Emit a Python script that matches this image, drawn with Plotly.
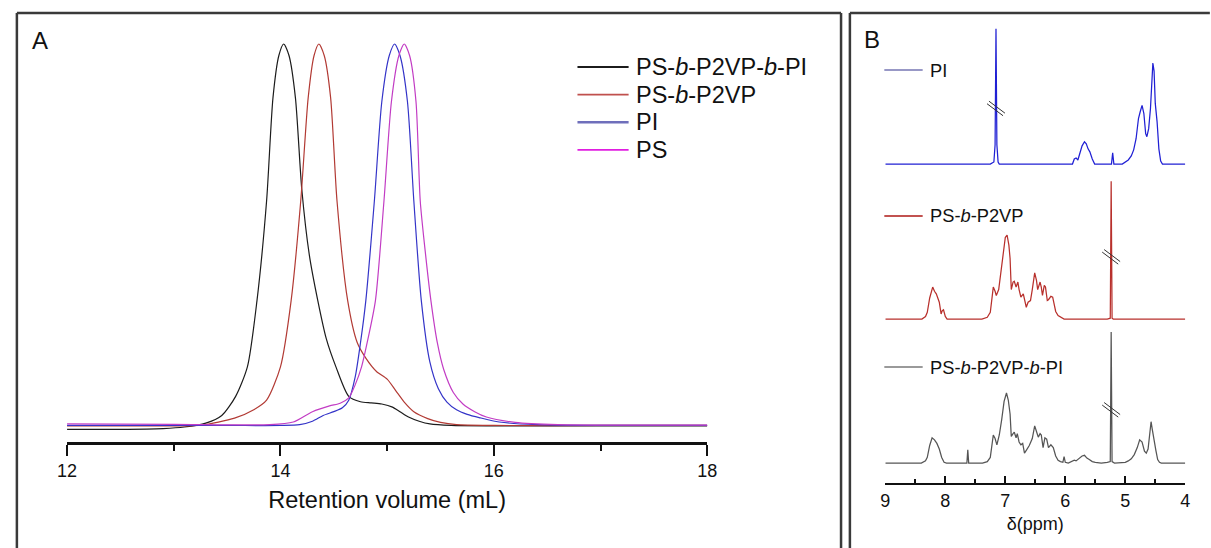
import plotly.graph_objects as go

W, H = 1211, 548

# ---------------- Panel A: GPC traces ----------------
gpc_names = ["PS-<i>b</i>-P2VP-<i>b</i>-PI", "PS-<i>b</i>-P2VP", "PI", "PS"]

triblock_vol = [12.0, 12.5, 12.9, 13.1, 13.3, 13.45, 13.58, 13.69, 13.78, 13.87, 13.93, 13.985, 14.03, 14.08,
                14.14, 14.2, 14.27, 14.35, 14.43, 14.52, 14.64, 14.75, 14.85, 14.95, 15.05, 15.12, 15.2,
                15.3, 15.4, 15.6, 16.0, 17.0, 18.0]
triblock_sig = [-0.006, -0.006, -0.004, 0.0, 0.01, 0.03, 0.08, 0.157, 0.33, 0.59, 0.86, 0.97, 1.0, 0.97,
                0.86, 0.62, 0.45, 0.33, 0.23, 0.157, 0.08, 0.066, 0.063, 0.06, 0.052, 0.04, 0.026,
                0.015, 0.008, 0.004, 0.003, 0.003, 0.003]

diblock_vol = [12.0, 13.0, 13.26, 13.57, 13.75, 13.87, 14.0, 14.1, 14.19, 14.26, 14.315, 14.36, 14.41, 14.47,
               14.53, 14.63, 14.72, 14.8, 14.9, 15.0, 15.08, 15.16, 15.25, 15.38, 15.5, 15.65, 16.0, 17.0, 18.0]
diblock_sig = [0.003, 0.003, 0.005, 0.023, 0.045, 0.07, 0.157, 0.33, 0.59, 0.86, 0.97, 1.0, 0.97, 0.86,
               0.59, 0.33, 0.22, 0.18, 0.145, 0.125, 0.095, 0.065, 0.04, 0.022, 0.012, 0.006, 0.004, 0.004, 0.004]

pi_vol = [12.0, 13.5, 14.0, 14.18, 14.3, 14.4, 14.5, 14.58, 14.64, 14.7, 14.75, 14.8, 14.88, 14.95, 15.02,
          15.07, 15.12, 15.19, 15.25, 15.32, 15.4, 15.48, 15.56, 15.65, 15.75, 15.87, 16.05, 16.4, 17.0, 18.0]
pi_sig = [0.004, 0.004, 0.004, 0.006, 0.015, 0.03, 0.04, 0.05, 0.07, 0.13, 0.22, 0.33, 0.59, 0.85, 0.97,
          1.0, 0.97, 0.85, 0.59, 0.33, 0.17, 0.1, 0.065, 0.045, 0.033, 0.024, 0.013, 0.006, 0.004, 0.004]

ps_vol = [12.0, 13.0, 13.9, 14.12, 14.3, 14.46, 14.56, 14.64, 14.7, 14.76, 14.82, 14.89, 14.97, 15.04, 15.11,
          15.16, 15.21, 15.27, 15.31, 15.36, 15.41, 15.47, 15.53, 15.62, 15.71, 15.82, 15.93, 16.2, 16.6,
          17.0, 18.0]
ps_sig = [0.008, 0.007, 0.006, 0.013, 0.04, 0.055, 0.062, 0.076, 0.11, 0.157, 0.23, 0.33, 0.59, 0.85, 0.97,
          1.0, 0.97, 0.85, 0.59, 0.45, 0.33, 0.22, 0.15, 0.09, 0.06, 0.04, 0.026, 0.012, 0.006, 0.005, 0.005]

gpc_colors = ["#1c1c1c", "#b23a34", "#3434c8", "#c23cc4"]
gpc_legend_colors = ["#1c1c1c", "#c0504d", "#6f6fbb", "#e01ee0"]

gpc_ticks = [12, 14, 16, 18]

# ---------------- Panel B: 1H NMR spectra ----------------
nmr_names = ["PI", "PS-<i>b</i>-P2VP", "PS-<i>b</i>-P2VP-<i>b</i>-PI"]

pi_ppm = [9.0, 7.25, 7.19, 7.17, 7.155, 7.14, 7.12, 7.10, 6.0, 5.88, 5.85, 5.82, 5.79, 5.76, 5.72, 5.68,
          5.65, 5.62, 5.59, 5.55, 5.51, 5.4, 5.23, 5.21, 5.19, 5.05, 5.02, 4.95, 4.9, 4.86, 4.82, 4.78,
          4.75, 4.72, 4.69, 4.66, 4.64, 4.61, 4.58, 4.56, 4.54, 4.52, 4.5, 4.47, 4.44, 4.41, 4.38, 4.3, 4.0]
pi_int = [0, 0, 0.02, 0.19, 1.34, 0.19, 0.02, 0, 0, 0, 0.05, 0.06, 0.04, 0.1, 0.18, 0.22,
          0.2, 0.15, 0.12, 0.05, 0, 0, 0, 0.11, 0, 0, 0.01, 0.04, 0.08, 0.14, 0.25, 0.45,
          0.52, 0.58, 0.5, 0.3, 0.27, 0.35, 0.55, 0.85, 1.0, 0.92, 0.6, 0.42, 0.15, 0.03, 0, 0, 0]

p2vp_ppm = [9.0, 8.39, 8.33, 8.30, 8.26, 8.21, 8.18, 8.15, 8.10, 8.07, 8.05, 8.03, 8.0, 7.97, 7.39, 7.3,
            7.25, 7.2, 7.17, 7.15, 7.11, 7.07, 7.03, 7.0, 6.97, 6.94, 6.92, 6.9, 6.87, 6.85, 6.82, 6.79,
            6.77, 6.74, 6.7, 6.67, 6.65, 6.62, 6.58, 6.55, 6.51, 6.48, 6.46, 6.42, 6.4, 6.38, 6.35, 6.33,
            6.3, 6.28, 6.24, 6.21, 6.18, 6.16, 6.12, 6.08, 6.02, 5.3, 5.25, 5.235, 5.22, 5.2, 4.0]
p2vp_int = [0, 0, 0.03, 0.08, 0.25, 0.38, 0.33, 0.3, 0.2, 0.06, 0.1, 0.11, 0.03, 0, 0, 0.02,
            0.08, 0.38, 0.33, 0.28, 0.35, 0.58, 0.85, 0.97, 1.0, 0.88, 0.72, 0.35, 0.44, 0.45, 0.38, 0.44,
            0.35, 0.26, 0.3, 0.18, 0.14, 0.2, 0.22, 0.35, 0.55, 0.46, 0.35, 0.44, 0.38, 0.28, 0.4, 0.38,
            0.22, 0.23, 0.27, 0.26, 0.15, 0.09, 0.04, 0.02, 0, 0, 0.01, 1.64, 0.01, 0, 0]

tri_ppm = [9.0, 8.4, 8.33, 8.3, 8.26, 8.22, 8.18, 8.14, 8.1, 8.06, 8.02, 7.98, 7.64, 7.625, 7.61, 7.38,
           7.3, 7.25, 7.2, 7.17, 7.14, 7.1, 7.06, 7.02, 6.98, 6.95, 6.92, 6.9, 6.87, 6.85, 6.82, 6.8,
           6.77, 6.74, 6.71, 6.68, 6.65, 6.6, 6.55, 6.51, 6.48, 6.45, 6.42, 6.4, 6.37, 6.34, 6.31, 6.28,
           6.24, 6.2, 6.16, 6.12, 6.08, 6.04, 6.02, 6.0, 5.95, 5.9, 5.85, 5.82, 5.78, 5.72, 5.68, 5.64,
           5.6, 5.55, 5.5, 5.4, 5.3, 5.25, 5.235, 5.22, 5.18, 5.0, 4.95, 4.9, 4.85, 4.8, 4.76, 4.72,
           4.68, 4.65, 4.62, 4.59, 4.57, 4.55, 4.52, 4.49, 4.46, 4.43, 4.4, 4.0]
tri_int = [0, 0, 0.03, 0.08, 0.25, 0.36, 0.33, 0.28, 0.2, 0.08, 0.01, 0, 0, 0.19, 0, 0,
           0.02, 0.08, 0.4, 0.35, 0.26, 0.4, 0.62, 0.88, 1.0, 0.9, 0.7, 0.38, 0.42, 0.44, 0.36, 0.42,
           0.3, 0.26, 0.28, 0.14, 0.18, 0.25, 0.35, 0.53, 0.45, 0.37, 0.42, 0.4, 0.22, 0.36, 0.34, 0.22,
           0.26, 0.22, 0.1, 0.04, 0.02, 0.01, 0.09, 0.01, 0.0, 0.02, 0.04, 0.03, 0.06, 0.1, 0.11, 0.07,
           0.05, 0.02, 0.01, 0.0, 0.01, 0.02, 1.87, 0.02, 0.0, 0.01, 0.03, 0.06, 0.12, 0.22, 0.33, 0.3,
           0.17, 0.14, 0.2, 0.4, 0.59, 0.48, 0.3, 0.18, 0.05, 0.01, 0, 0]

nmr_colors = ["#2020d4", "#b8302c", "#555555"]
nmr_legend_colors = ["#9898c6", "#c25250", "#9a9a9a"]

# axis-break marks on the truncated solvent peaks: (ppm, intensity) for each spectrum
break_ppm = [7.155, 5.235, 5.235]
break_int = [0.55, 0.74, 0.76]

nmr_ticks = [9, 8, 7, 6, 5, 4]

# ---------------- helpers for paper coordinates ----------------
def px(x):
    return x / W


def py(y):
    return 1 - y / H


FONT = "Liberation Sans, Arial, sans-serif"

fig = go.Figure()

gpc_series = [(triblock_vol, triblock_sig), (diblock_vol, diblock_sig), (pi_vol, pi_sig), (ps_vol, ps_sig)]
for (xv, yv), name, col in zip(gpc_series, gpc_names, gpc_colors):
    fig.add_trace(go.Scatter(x=xv, y=yv, mode="lines", name=name, showlegend=False,
                             line=dict(color=col, width=1.2, shape="spline", smoothing=0.7),
                             xaxis="x", yaxis="y"))

nmr_series = [(pi_ppm, pi_int), (p2vp_ppm, p2vp_int), (tri_ppm, tri_int)]
nmr_yaxes = ["y2", "y3", "y4"]
for (xv, yv), name, col, ya in zip(nmr_series, nmr_names, nmr_colors, nmr_yaxes):
    fig.add_trace(go.Scatter(x=xv, y=yv, mode="lines", name=name, showlegend=False,
                             line=dict(color=col, width=1.25),
                             xaxis="x2", yaxis=ya))

shapes = []
annotations = []

# panel frames
frame = dict(type="line", xref="paper", yref="paper", line=dict(color="#3a3a3a", width=2.5))
shapes += [
    dict(frame, x0=px(7), x1=px(7), y0=py(13), y1=py(560)),
    dict(frame, x0=px(7), x1=px(845), y0=py(13), y1=py(13)),
    dict(frame, x0=px(845), x1=px(845), y0=py(13), y1=py(560)),
    dict(frame, x0=px(854), x1=px(854), y0=py(13), y1=py(560)),
    dict(frame, x0=px(854), x1=px(1220), y0=py(13), y1=py(13)),
]

# panel letters
for letter, lx, ly in [("A", 30, 40), ("B", 876, 39)]:
    annotations.append(dict(text=letter, x=px(lx), y=py(ly), xref="paper", yref="paper",
                            xanchor="center", yanchor="middle", showarrow=False,
                            font=dict(family=FONT, size=24, color="#111")))

# legend of panel A
for i, (name, col) in enumerate(zip(gpc_names, gpc_legend_colors)):
    yy = 67 + i * 27.6
    shapes.append(dict(type="line", xref="paper", yref="paper", x0=px(577), x1=px(629),
                       y0=py(yy), y1=py(yy), line=dict(color=col, width=2.5 if i == 2 else 1.8)))
    annotations.append(dict(text=name, x=px(634), y=py(yy), xref="paper", yref="paper",
                            xanchor="left", yanchor="middle", showarrow=False,
                            font=dict(family=FONT, size=23.5, color="#111")))

# legends of panel B
for name, col, yy in zip(nmr_names, nmr_legend_colors, [70, 216, 367]):
    shapes.append(dict(type="line", xref="paper", yref="paper", x0=px(889), x1=px(928),
                       y0=py(yy), y1=py(yy), line=dict(color=col, width=2)))
    annotations.append(dict(text=name, x=px(933), y=py(yy), xref="paper", yref="paper",
                            xanchor="left", yanchor="middle", showarrow=False,
                            font=dict(family=FONT, size=18.3, color="#111")))

# break marks on the truncated solvent peaks
for bp, bi, ya in zip(break_ppm, break_int, nmr_yaxes):
    for off in (-1.6, 1.6):
        shapes.append(dict(type="line", xref="x2", yref=ya, xsizemode="pixel", ysizemode="pixel",
                           xanchor=bp, yanchor=bi,
                           x0=-8 + 0.6 * off, y0=6 + 0.8 * off, x1=8 + 0.6 * off, y1=-6 + 0.8 * off,
                           line=dict(color="#333", width=1)))

# axis geometry (pixels)
A_axis_y, A_base_y, A_top_y, A_peak_y = 442, 427, 40, 44
A_unit = A_base_y - A_peak_y
A_range = [-(A_axis_y - A_base_y) / A_unit, (A_base_y - A_top_y) / A_unit]

# (baseline px, unit px, bottom px, top px) for the three stacked spectra
nmr_geom = [(164, 101, 170, 20), (319, 84, 325, 175), (463, 70, 483, 325)]

axis_common = dict(showgrid=False, zeroline=False)

fig.update_layout(
    width=W, height=H,
    margin=dict(l=0, r=0, t=0, b=0),
    paper_bgcolor="white", plot_bgcolor="rgba(0,0,0,0)",
    font=dict(family=FONT, color="#111"),
    showlegend=False,
    shapes=shapes,
    annotations=annotations,
    xaxis=dict(axis_common, domain=[px(58), px(709)], range=[12, 18], anchor="y",
               showline=True, linecolor="#111", linewidth=2.5,
               ticks="outside", ticklen=11, tickwidth=2, tickcolor="#111",
               tickvals=gpc_ticks, tickfont=dict(size=18, color="#111"),
               minor=dict(dtick=1, ticks="outside", ticklen=6, tickwidth=2, tickcolor="#111"),
               title=dict(text="Retention volume (mL)", font=dict(size=23.5, color="#111"), standoff=12)),
    yaxis=dict(axis_common, domain=[py(A_axis_y), py(A_top_y)], range=A_range, visible=False, anchor="x"),
    xaxis2=dict(axis_common, domain=[px(890), px(1195)], range=[9, 4], anchor="y4",
                showline=True, linecolor="#111", linewidth=2,
                ticks="inside", ticklen=7, tickwidth=1.8, tickcolor="#111",
                tickvals=nmr_ticks, tickfont=dict(size=18, color="#111"),
                minor=dict(dtick=0.5, ticks="inside", ticklen=4, tickwidth=1.5, tickcolor="#111"),
                title=dict(text="δ(ppm)", font=dict(size=18, color="#111"), standoff=8)),
)

for ya, (b, u, d, t) in zip(["yaxis2", "yaxis3", "yaxis4"], nmr_geom):
    fig.update_layout({ya: dict(axis_common, domain=[py(d), py(t)],
                                range=[-(d - b) / u, (b - t) / u], visible=False, anchor="x2")})

fig.write_html("out.html", config={"displayModeBar": False},
               post_script="document.body.style.margin='0';document.body.style.overflow='hidden';")
